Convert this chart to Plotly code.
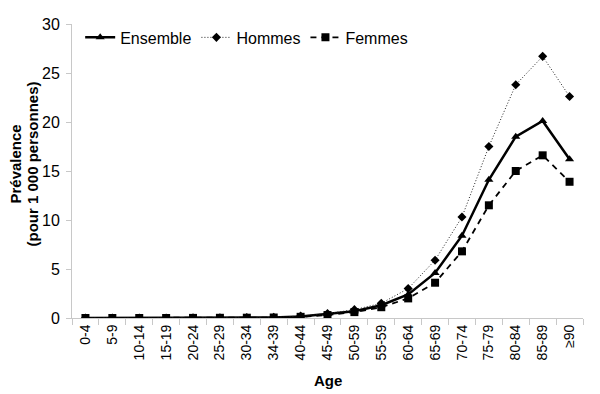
import plotly.graph_objects as go

categories = ["0-4", "5-9", "10-14", "15-19", "20-24", "25-29", "30-34", "34-39",
              "40-44", "45-49", "50-59", "55-59", "60-64", "65-69", "70-74",
              "75-79", "80-84", "85-89", "≥90"]
ensemble = [0, 0, 0, 0, 0.01, 0.02, 0.03, 0.06, 0.15, 0.4, 0.7, 1.3, 2.4, 4.6, 8.4, 14.1, 18.5, 20.1, 16.2]
hommes = [0, 0, 0, 0, 0.01, 0.02, 0.04, 0.08, 0.2, 0.45, 0.85, 1.5, 3.0, 5.9, 10.3, 17.5, 23.8, 26.7, 22.6]
femmes = [0, 0, 0, 0, 0.01, 0.02, 0.03, 0.05, 0.12, 0.3, 0.6, 1.1, 2.0, 3.6, 6.8, 11.5, 15.0, 16.6, 13.9]
y_title_lines = ["Prévalence", "(pour 1 000 personnes)"]
x_title = "Age"

font = "Liberation Sans, Arial, sans-serif"

fig = go.Figure()
fig.add_trace(go.Scatter(x=categories, y=ensemble, name="Ensemble", mode="lines+markers",
                         line=dict(color="black", width=2.5),
                         marker=dict(symbol="triangle-up", size=8, color="black")))
fig.add_trace(go.Scatter(x=categories, y=hommes, name="Hommes", mode="lines+markers",
                         line=dict(color="#222222", width=1, dash="1px,2px"),
                         marker=dict(symbol="diamond", size=7, color="black")))
fig.add_trace(go.Scatter(x=categories, y=femmes, name="Femmes", mode="lines+markers",
                         line=dict(color="black", width=1.8, dash="6px,5px"),
                         marker=dict(symbol="square", size=8, color="black")))

annotations = []
for line_text, shift in zip(y_title_lines, [-56, -39]):
    annotations.append(dict(text="<b>" + line_text + "</b>", textangle=-90,
                            xref="paper", yref="paper", x=0, y=0.522, xshift=shift,
                            showarrow=False, xanchor="center", yanchor="middle",
                            font=dict(size=15)))
annotations.append(dict(text="<b>" + x_title + "</b>", xref="paper", yref="paper",
                        x=0.5, y=0, yshift=-62, showarrow=False,
                        xanchor="center", yanchor="middle", font=dict(size=15)))

fig.update_layout(
    width=592, height=386,
    margin=dict(l=64, r=17, t=12, b=76),
    paper_bgcolor="white", plot_bgcolor="white",
    font=dict(family=font, size=14, color="black"),
    legend=dict(orientation="h", x=0.016, y=1.012, xanchor="left", yanchor="top",
                font=dict(size=16), bgcolor="rgba(0,0,0,0)", itemwidth=30,
                tracegroupgap=0),
    showlegend=True,
    annotations=annotations,
)
fig.update_xaxes(
    type="category", range=[-0.5, 18.5], automargin=False,
    showline=True, linecolor="#c8c8c8", linewidth=1,
    ticks="outside", tickcolor="#c8c8c8", ticklen=6, tickson="boundaries",
    tickangle=-90, showgrid=False, zeroline=False,
    tickfont=dict(size=14),
)
fig.update_yaxes(
    range=[0, 30], dtick=5, automargin=False,
    showline=True, linecolor="#c8c8c8", linewidth=1,
    ticks="outside", tickcolor="#c8c8c8", ticklen=5, ticklabelstandoff=3,
    showgrid=False, zeroline=False,
    tickfont=dict(size=16),
)

fig.write_html("out.html")
